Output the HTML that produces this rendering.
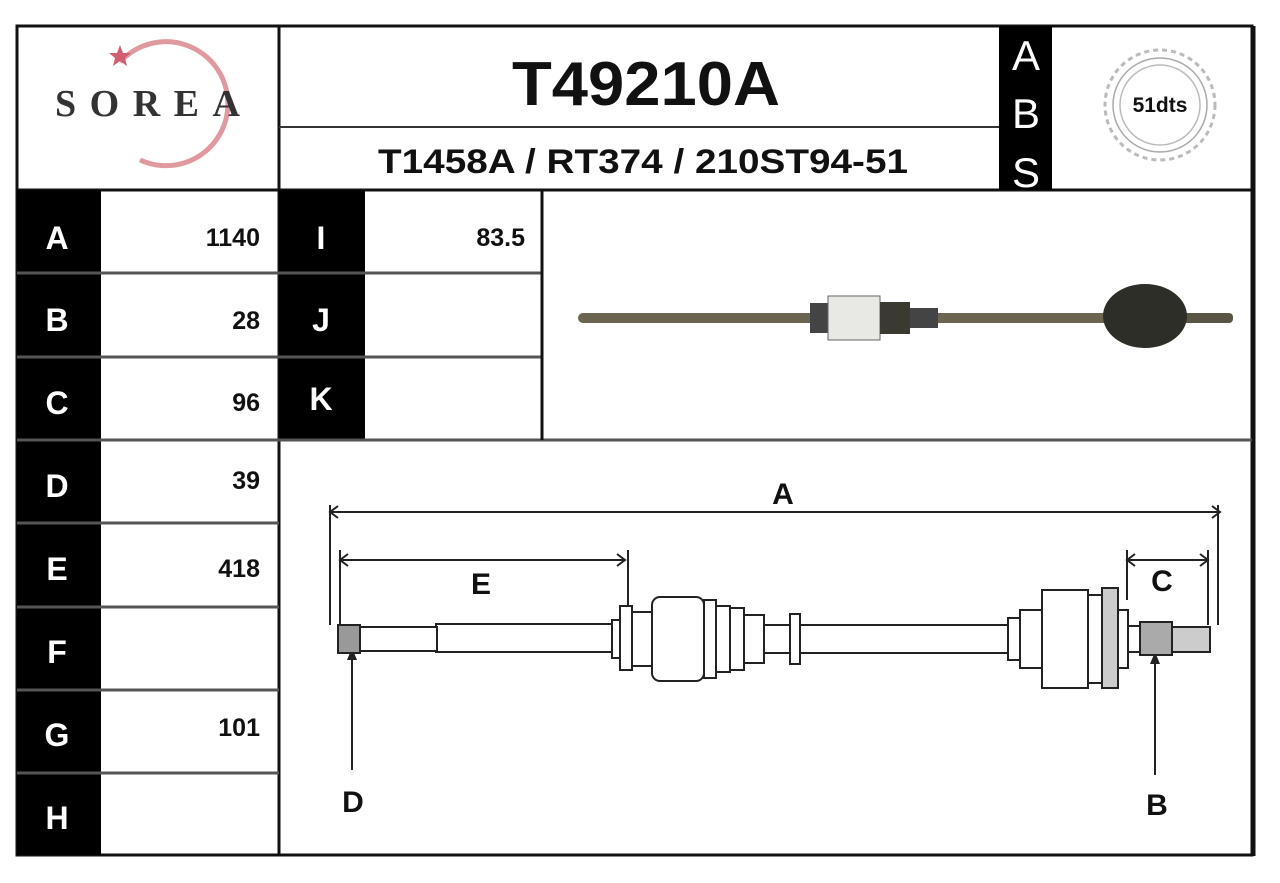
<!DOCTYPE html>
<html><head><style>
html,body{margin:0;padding:0;background:#fff;}
svg{display:block;}
text{font-family:"Liberation Sans",Arial,sans-serif;font-weight:bold;}
</style></head><body>
<svg width="1280" height="883" viewBox="0 0 1280 883" xmlns="http://www.w3.org/2000/svg">
<rect width="1280" height="883" fill="#fff"/>
<rect x="17" y="26" width="1235" height="829" fill="none" stroke="#111" stroke-width="3"/>
<line x1="1253" y1="26" x2="1253" y2="856" stroke="#111" stroke-width="5"/>
<line x1="279" y1="26" x2="279" y2="855" stroke="#111" stroke-width="3"/>
<line x1="17" y1="190" x2="1252" y2="190" stroke="#111" stroke-width="3"/>
<line x1="279" y1="127" x2="1000" y2="127" stroke="#333" stroke-width="2"/>
<rect x="999" y="26" width="53" height="164" fill="#000"/>
<text x="1026" y="70" font-size="42" fill="#fff" text-anchor="middle" style="font-weight:normal">A</text>
<text x="1026" y="128" font-size="42" fill="#fff" text-anchor="middle" style="font-weight:normal">B</text>
<text x="1026" y="187" font-size="42" fill="#fff" text-anchor="middle" style="font-weight:normal">S</text>
<text x="512" y="105" font-size="62" fill="#111" textLength="268" lengthAdjust="spacingAndGlyphs">T49210A</text>
<text x="378" y="173" font-size="34" fill="#111" textLength="530" lengthAdjust="spacingAndGlyphs">T1458A / RT374 / 210ST94-51</text>
<!-- logo -->
<path d="M120 62 A62 62 0 1 1 140 160" fill="none" stroke="#d98088" stroke-width="5" opacity="0.8"/>
<text x="55" y="116" font-size="38" fill="#333" textLength="185" lengthAdjust="spacing" style="font-family:'Liberation Serif',serif">SOREA</text>
<polygon points="120,45 123,53 131,53 125,58 127,66 120,61 113,66 115,58 109,53 117,53" fill="#d06070"/>
<!-- gear -->
<circle cx="1160" cy="105" r="55" fill="none" stroke="#bbb" stroke-width="3" stroke-dasharray="5 4"/>
<circle cx="1160" cy="105" r="47" fill="none" stroke="#aaa" stroke-width="1.5"/>
<circle cx="1160" cy="105" r="40" fill="none" stroke="#bbb" stroke-width="1.5"/>
<text x="1160" y="112" font-size="21" text-anchor="middle" fill="#111">51dts</text>
<!-- table -->
<rect x="17" y="190" width="84" height="665" fill="#000"/>
<rect x="279" y="190" width="86" height="250" fill="#000"/>
<g stroke="#555" stroke-width="3">
<line x1="17" y1="273" x2="279" y2="273"/><line x1="17" y1="357" x2="279" y2="357"/>
<line x1="17" y1="440" x2="1252" y2="440"/><line x1="17" y1="523" x2="279" y2="523"/>
<line x1="17" y1="607" x2="279" y2="607"/><line x1="17" y1="690" x2="279" y2="690"/>
<line x1="17" y1="773" x2="279" y2="773"/>
<line x1="279" y1="273" x2="541" y2="273"/><line x1="279" y1="357" x2="541" y2="357"/>
</g>
<line x1="542" y1="190" x2="542" y2="440" stroke="#111" stroke-width="3"/>
<g fill="#fff" font-size="32" text-anchor="middle">
<text x="57" y="249">A</text><text x="57" y="331">B</text><text x="57" y="414">C</text>
<text x="57" y="497">D</text><text x="57" y="580">E</text><text x="57" y="663">F</text>
<text x="57" y="746">G</text><text x="57" y="829">H</text>
<text x="321" y="249">I</text><text x="321" y="331">J</text><text x="321" y="410">K</text>
</g>
<g fill="#111" font-size="25" text-anchor="end">
<text x="260" y="246">1140</text><text x="260" y="329">28</text><text x="260" y="411">96</text>
<text x="260" y="489">39</text><text x="260" y="577">418</text><text x="260" y="736">101</text>
<text x="525" y="246">83.5</text>
</g>
<!-- photo -->
<rect x="578" y="313" width="540" height="10" rx="5" fill="#6a6450"/>
<rect x="1175" y="313" width="58" height="10" rx="4" fill="#5a5445"/>
<rect x="810" y="303" width="22" height="30" fill="#444"/>
<rect x="828" y="296" width="52" height="44" fill="#e8e8e4" stroke="#666"/>
<rect x="880" y="302" width="30" height="32" fill="#3a3a30"/>
<rect x="910" y="308" width="28" height="20" fill="#444"/>
<ellipse cx="1145" cy="316" rx="42" ry="32" fill="#2e2e28"/>
<!-- drawing -->
<g stroke="#222" stroke-width="2" fill="none">
<line x1="330" y1="512" x2="1220" y2="512"/>
<polyline points="338,506 330,512 338,518"/><polyline points="1212,506 1220,512 1212,518"/>
<line x1="330" y1="505" x2="330" y2="625"/><line x1="1218" y1="505" x2="1218" y2="625"/>
<line x1="340" y1="560" x2="625" y2="560"/>
<polyline points="348,554 340,560 348,566"/><polyline points="617,554 625,560 617,566"/>
<line x1="340" y1="550" x2="340" y2="625"/><line x1="628" y1="550" x2="628" y2="610"/>
<line x1="1127" y1="560" x2="1208" y2="560"/>
<polyline points="1135,554 1127,560 1135,566"/><polyline points="1200,554 1208,560 1200,566"/>
<line x1="1127" y1="550" x2="1127" y2="600"/><line x1="1208" y1="550" x2="1208" y2="625"/>
<line x1="352" y1="655" x2="352" y2="770"/><line x1="1155" y1="660" x2="1155" y2="775"/>
</g>
<polygon points="352,648 347,660 357,660" fill="#222"/>
<polygon points="1155,652 1150,664 1160,664" fill="#222"/>
<g stroke="#222" stroke-width="2" fill="#fff">
<rect x="436" y="624" width="176" height="28"/>
<rect x="345" y="627" width="92" height="24"/>
<rect x="338" y="625" width="22" height="28" fill="#999"/>
<rect x="612" y="620" width="8" height="38"/>
<rect x="620" y="606" width="12" height="64"/>
<rect x="632" y="612" width="20" height="54"/>
<rect x="652" y="597" width="52" height="84" rx="8"/>
<rect x="704" y="600" width="12" height="78"/>
<rect x="716" y="606" width="14" height="66"/>
<rect x="730" y="608" width="14" height="62"/>
<rect x="744" y="615" width="20" height="48"/>
<rect x="764" y="625" width="244" height="28"/>
<rect x="790" y="614" width="10" height="50"/>
<rect x="1008" y="618" width="12" height="42"/>
<rect x="1020" y="610" width="22" height="58"/>
<rect x="1042" y="590" width="46" height="98"/>
<rect x="1088" y="595" width="14" height="88"/>
<rect x="1102" y="588" width="16" height="100" fill="#ccc"/>
<rect x="1118" y="610" width="10" height="58"/>
<rect x="1128" y="626" width="12" height="26"/>
<rect x="1140" y="622" width="32" height="33" fill="#aaa"/>
<rect x="1172" y="627" width="38" height="25" fill="#ccc"/>
</g>
<g fill="#111" font-size="30" text-anchor="middle">
<text x="783" y="504">A</text><text x="481" y="594">E</text><text x="1162" y="591">C</text>
<text x="353" y="812">D</text><text x="1157" y="815">B</text>
</g>
</svg>
</body></html>
